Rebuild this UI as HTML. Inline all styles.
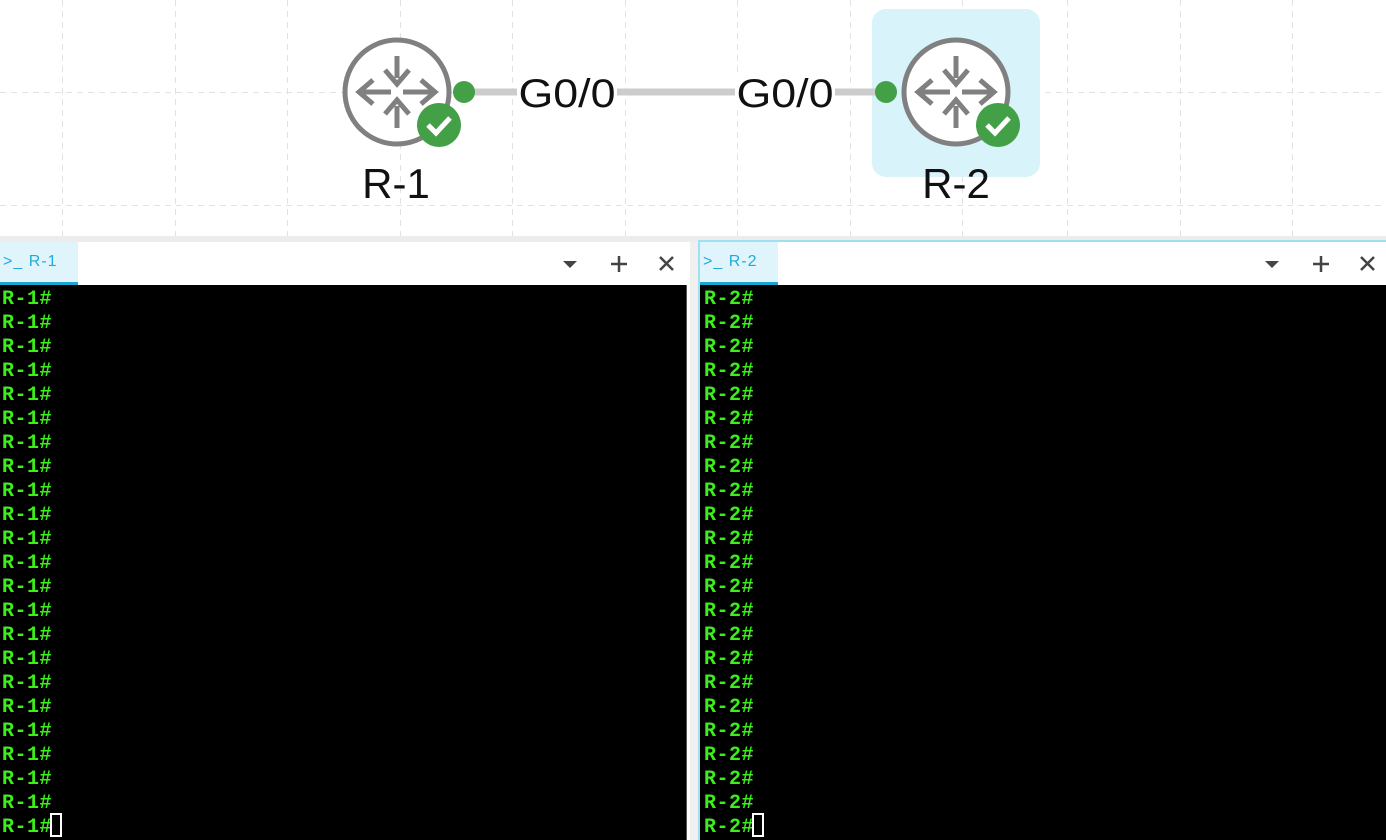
<!DOCTYPE html>
<html><head><meta charset="utf-8"><style>
*{margin:0;padding:0;box-sizing:border-box}
body{width:1386px;height:840px;overflow:hidden;background:#fff;position:relative;font-family:"Liberation Sans",sans-serif}
.abs{position:absolute}
.lines{position:absolute;left:2px;top:3px;white-space:pre;color:#3bf01a;font-family:"Liberation Mono","DejaVu Sans Mono",monospace;font-weight:bold;font-size:20px;line-height:24px;letter-spacing:0.5px}
.tab{position:absolute;top:242px;height:43px;background:#fff}
.tabsel{position:absolute;top:0;left:0;width:78px;height:43px;background:#dff5fb;border-bottom:3px solid #1aa6d2;color:#22aadd;font-size:16px;padding:11px 0 0 3px;letter-spacing:1px}
.cursor{position:absolute;width:12px;height:24px;border:2px solid #fff}
</style></head><body>
<svg class="abs" style="left:0;top:0" width="1386" height="236">
<g stroke="#e2e2e2" stroke-width="1" stroke-dasharray="6,5">
<line x1="62.5" y1="0" x2="62.5" y2="236"/><line x1="175.5" y1="0" x2="175.5" y2="236"/><line x1="287.5" y1="0" x2="287.5" y2="236"/><line x1="400.5" y1="0" x2="400.5" y2="236"/><line x1="512.5" y1="0" x2="512.5" y2="236"/><line x1="625.5" y1="0" x2="625.5" y2="236"/><line x1="737.5" y1="0" x2="737.5" y2="236"/><line x1="850.5" y1="0" x2="850.5" y2="236"/><line x1="962.5" y1="0" x2="962.5" y2="236"/><line x1="1067.5" y1="0" x2="1067.5" y2="236"/><line x1="1180.5" y1="0" x2="1180.5" y2="236"/><line x1="1292.5" y1="0" x2="1292.5" y2="236"/>
<line x1="0" y1="92.5" x2="1386" y2="92.5"/><line x1="0" y1="205.5" x2="1386" y2="205.5"/>
</g>
<rect x="872" y="9" width="168" height="168" rx="14" fill="#d8f3fa"/>
<line x1="464" y1="92" x2="886" y2="92" stroke="#cccccc" stroke-width="7"/>
<circle cx="464" cy="92" r="11" fill="#43a047"/>
<circle cx="886" cy="92" r="11" fill="#43a047"/>
<rect x="517" y="76" width="100" height="32" fill="#fff"/>
<rect x="735" y="76" width="100" height="32" fill="#fff"/>
<text x="567" y="107" font-size="40" text-anchor="middle" fill="#111" font-family="Liberation Sans" textLength="97" lengthAdjust="spacingAndGlyphs">G0/0</text>
<text x="785" y="107" font-size="40" text-anchor="middle" fill="#111" font-family="Liberation Sans" textLength="97" lengthAdjust="spacingAndGlyphs">G0/0</text>
<defs>
<g id="rt">
<circle cx="0" cy="0" r="52" fill="#fff" stroke="#808080" stroke-width="5"/>
<g fill="#808080" stroke="#808080">
<line x1="0" y1="-36" x2="0" y2="-14" stroke-width="5"/><path d="M-12,-22 L0,-8 L12,-22" fill="none" stroke-width="5"/>
<line x1="0" y1="36" x2="0" y2="14" stroke-width="5"/><path d="M-12,22 L0,8 L12,22" fill="none" stroke-width="5"/>
<line x1="-6" y1="0" x2="-36" y2="0" stroke-width="5"/><path d="M-24,-12 L-38,0 L-24,12" fill="none" stroke-width="5"/>
<line x1="6" y1="0" x2="36" y2="0" stroke-width="5"/><path d="M24,-12 L38,0 L24,12" fill="none" stroke-width="5"/>
</g>
<circle cx="42" cy="33" r="22" fill="#43a047"/>
<path d="M31,33 L39,41 L53,26" fill="none" stroke="#fff" stroke-width="5"/>
</g>
</defs>
<use href="#rt" x="397" y="92"/>
<use href="#rt" x="956" y="92"/>
<text x="396" y="198" font-size="42" text-anchor="middle" fill="#111" font-family="Liberation Sans">R-1</text>
<text x="956" y="198" font-size="42" text-anchor="middle" fill="#111" font-family="Liberation Sans">R-2</text>
</svg>
<div class="abs" style="left:0;top:236px;width:1386px;height:6px;background:#ececec"></div>
<div class="abs" style="left:698px;top:240px;width:688px;height:2px;background:#9fe0f2"></div>
<div class="abs" style="left:690px;top:242px;width:8px;height:598px;background:#f0f0f0"></div>
<div class="abs" style="left:698px;top:242px;width:2px;height:598px;background:#9fe0f2"></div>
<div class="tab" style="left:0;width:690px"><div class="tabsel">&gt;_ R-1</div>
<svg class="abs" style="left:560px;top:12px" width="120" height="20"><path d="M3,7 L17,7 L10,14Z" fill="#444"/><path d="M59,2 V18 M51,10 H67" stroke="#444" stroke-width="2.5"/><path d="M100,3 L113,16 M113,3 L100,16" stroke="#444" stroke-width="2.5"/></svg></div>
<div class="tab" style="left:700px;width:686px"><div class="tabsel">&gt;_ R-2</div>
<svg class="abs" style="left:564px;top:12px" width="120" height="20"><path d="M1,7 L15,7 L8,14Z" fill="#444"/><path d="M57,2 V18 M49,10 H65" stroke="#444" stroke-width="2.5"/><path d="M97,3 L110,16 M110,3 L97,16" stroke="#444" stroke-width="2.5"/></svg></div>
<div class="abs" style="left:0;top:285px;width:687px;height:555px;background:#000"><div class="abs" style="left:686px;top:0;width:1px;height:555px;background:#555"></div>
<div class="lines">R-1#
R-1#
R-1#
R-1#
R-1#
R-1#
R-1#
R-1#
R-1#
R-1#
R-1#
R-1#
R-1#
R-1#
R-1#
R-1#
R-1#
R-1#
R-1#
R-1#
R-1#
R-1#
R-1#</div><div class="cursor" style="left:50px;top:528px"></div></div>
<div class="abs" style="left:700px;top:285px;width:686px;height:555px;background:#000">
<div class="lines" style="left:4px">R-2#
R-2#
R-2#
R-2#
R-2#
R-2#
R-2#
R-2#
R-2#
R-2#
R-2#
R-2#
R-2#
R-2#
R-2#
R-2#
R-2#
R-2#
R-2#
R-2#
R-2#
R-2#
R-2#</div><div class="cursor" style="left:52px;top:528px"></div></div>
</body></html>
